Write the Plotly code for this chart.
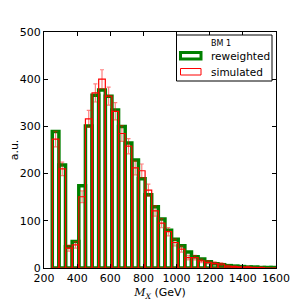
import numpy as np
import plotly.graph_objects as go

bin_lo = 250
bin_w = 40
reweighted = [289, 218, 45, 56, 174, 301, 366, 377, 364, 335, 300, 265, 229, 189, 155, 130, 104, 80, 61,
              47, 34, 24, 19, 13, 9, 7, 5, 4, 3, 2, 2, 1, 1, 1]
simulated = [273, 210, 42, 49, 151, 316, 371, 400, 364, 332, 285, 258, 212, 206, 165, 121, 95, 77, 54,
             40, 22, 22, 15, 12, 10, 8, 4, 3, 2, 2, 1, 1, 0, 0]
legend_title = "BM 1"
legend_names = ["reweighted", "simulated"]

n = len(reweighted)
centers = [bin_lo + bin_w * (i + 0.5) for i in range(n)]
sim_err = [float(np.sqrt(v)) for v in simulated]

OFF = 8  # page body margin
W, H = 307 - OFF, 307 - OFF
L, R, T, B = 44 - OFF, 31, 32 - OFF, 39
pw, ph = W - L - R, H - T - B


def px(x):
    return (x - OFF - L) / pw


def py(y):
    return (H - B - (y - OFF)) / ph


fig = go.Figure()
fig.add_trace(go.Bar(
    x=centers, y=reweighted, width=bin_w, name=legend_names[0],
    marker=dict(color="rgba(255,255,255,0)", line=dict(color="green", width=3.5)),
))
fig.add_trace(go.Bar(
    x=centers, y=simulated, width=bin_w, name=legend_names[1],
    marker=dict(color="rgba(255,255,255,0)", line=dict(color="red", width=1.2)),
    error_y=dict(type="data", array=sim_err, color="rgba(255,0,0,0.5)", thickness=1.2, width=2),
))

shapes = [
    dict(type="rect", xref="paper", yref="paper", x0=px(176.5), x1=px(272), y0=py(81), y1=py(35),
         line=dict(color="black", width=1), fillcolor="white", layer="above"),
    dict(type="rect", xref="paper", yref="paper", x0=px(180.5), x1=px(201), y0=py(59), y1=py(52.5),
         line=dict(color="green", width=3), fillcolor="white", layer="above"),
    dict(type="rect", xref="paper", yref="paper", x0=px(180.5), x1=px(201), y0=py(75), y1=py(68.5),
         line=dict(color="red", width=1), fillcolor="white", layer="above"),
]
annotations = [
    dict(text=legend_title, xref="paper", yref="paper", x=px(221), y=py(43.5), showarrow=False,
         xanchor="center", yanchor="middle", font=dict(size=8)),
    dict(text=legend_names[0], xref="paper", yref="paper", x=px(208.5), y=py(56), showarrow=False,
         xanchor="left", yanchor="middle", font=dict(size=10.5)),
    dict(text=legend_names[1], xref="paper", yref="paper", x=px(208.5), y=py(72), showarrow=False,
         xanchor="left", yanchor="middle", font=dict(size=10.5)),
]

fig.update_layout(
    width=W, height=H,
    margin=dict(l=L, r=R, t=T, b=B),
    barmode="overlay",
    paper_bgcolor="white", plot_bgcolor="white",
    font=dict(family="DejaVu Sans", size=11, color="black"),
    showlegend=False,
    shapes=shapes,
    annotations=annotations,
    xaxis=dict(
        range=[200, 1600], tickmode="array", tickvals=list(range(200, 1601, 200)),
        ticks="inside", ticklen=4, tickcolor="black", mirror="ticks", automargin=False,
        showline=True, linecolor="black", linewidth=1, showgrid=False, zeroline=False,
        title=dict(text="<span style='font-family:DejaVu Serif'><i>M</i><sub><i>X</i></sub></span> (GeV)",
                   standoff=4, font=dict(size=11)),
    ),
    yaxis=dict(
        range=[0, 500], tickmode="array", tickvals=list(range(0, 501, 100)),
        ticks="inside", ticklen=4, tickcolor="black", mirror="ticks", automargin=False,
        showline=True, linecolor="black", linewidth=1, showgrid=False, zeroline=False,
        title=dict(text="a.u.", standoff=2, font=dict(size=11)),
    ),
)

fig.write_html("out.html")
